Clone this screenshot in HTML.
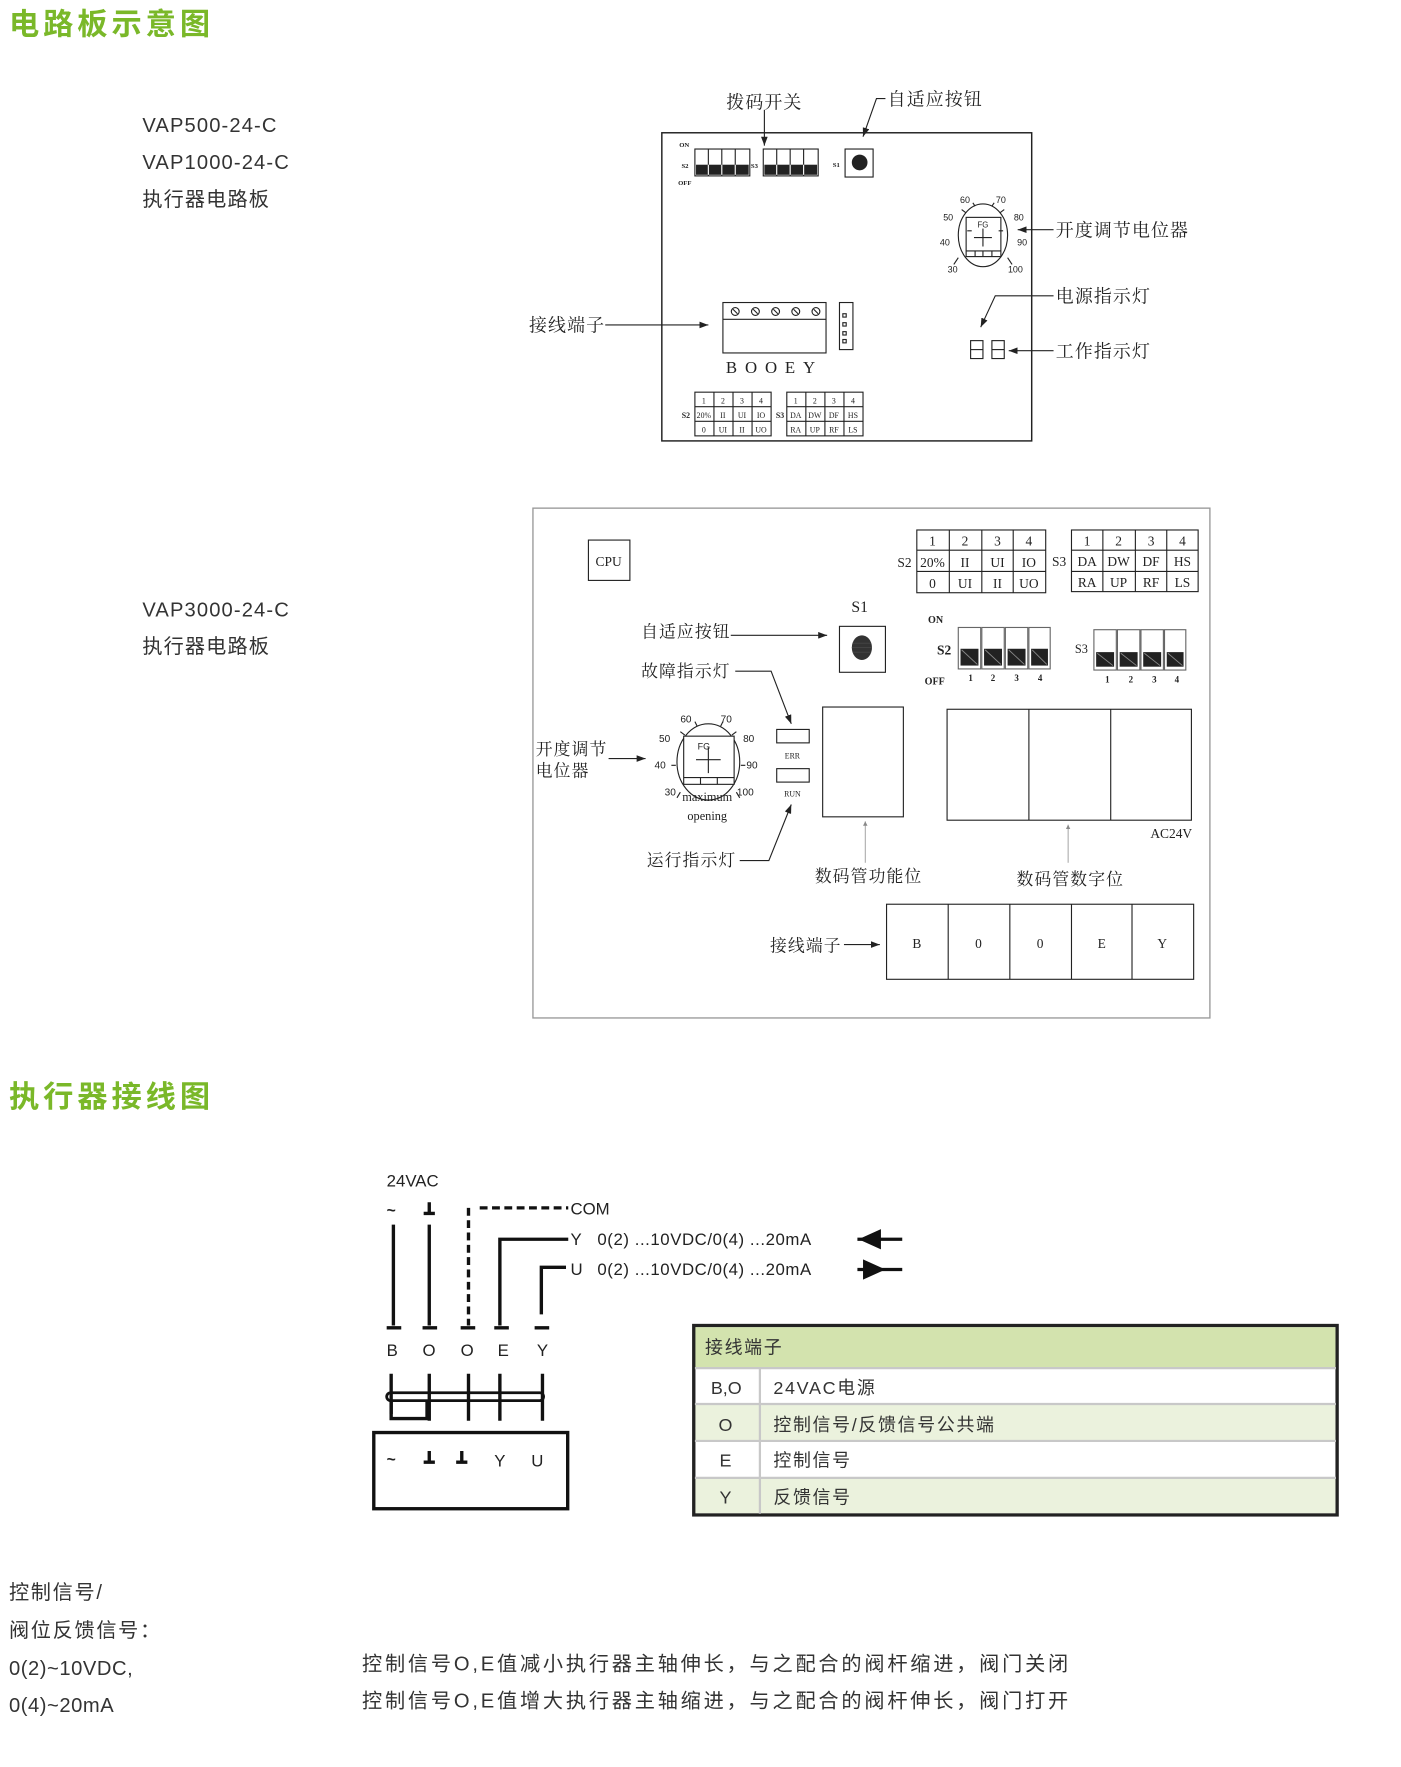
<!DOCTYPE html>
<html><head><meta charset="utf-8"><style>
html,body{margin:0;padding:0;background:#fff;}
svg{display:block;}
.s{font-family:"Liberation Sans","Noto Sans CJK SC",sans-serif;fill:#333;}
.r{font-family:"Liberation Serif","Noto Serif CJK SC",serif;fill:#222;}
.n{font-family:"Liberation Sans","Noto Sans CJK SC",sans-serif;fill:#222;}
</style></head><body>
<svg width="1401" height="1767" viewBox="0 0 1250 1577" preserveAspectRatio="none" xmlns="http://www.w3.org/2000/svg">
<defs>
<marker id="a" markerWidth="8" markerHeight="6" refX="8" refY="3" orient="auto" markerUnits="userSpaceOnUse"><path d="M0,0 L8,3 L0,6z" fill="#222"/></marker>
<marker id="b" markerWidth="4" markerHeight="4" refX="4" refY="2" orient="auto" markerUnits="userSpaceOnUse"><path d="M0,0 L4,2 L0,4z" fill="#888"/></marker>
</defs>
<rect width="1250" height="1577" fill="#fff"/>
<!-- titles -->
<text x="8" y="31" class="s" style="fill:#7ab829;font-size:27px;font-weight:bold;letter-spacing:3.5px">电路板示意图</text>
<g class="s" font-size="18" letter-spacing="1"><text x="127" y="118">VAP500-24-C</text>
<text x="127" y="151">VAP1000-24-C</text>
<text x="127" y="184">执行器电路板</text>
<text x="127" y="550">VAP3000-24-C</text>
<text x="127" y="583">执行器电路板</text></g>

<!-- Board 1 -->
<g stroke="#222" fill="none" stroke-width="1">
<rect x="590.5" y="118.5" width="330" height="275" stroke-width="1.3"/>
<line x1="682" y1="98" x2="682" y2="130" marker-end="url(#a)"/>
<polyline points="790,88 782,88 770,122" marker-end="url(#a)"/>
<rect x="620" y="133" width="49" height="24"/><line x1="632" y1="133" x2="632" y2="157"/><line x1="644" y1="133" x2="644" y2="157"/><line x1="656" y1="133" x2="656" y2="157"/>
<rect x="681" y="133" width="49" height="24"/><line x1="693" y1="133" x2="693" y2="157"/><line x1="705" y1="133" x2="705" y2="157"/><line x1="717" y1="133" x2="717" y2="157"/>
<rect x="754" y="133" width="25" height="25"/>
<ellipse cx="877" cy="210" rx="22" ry="28"/>
<rect x="862" y="194" width="31" height="35" fill="#fff"/>
<line x1="862" y1="224" x2="893" y2="224"/><line x1="870" y1="224" x2="870" y2="229"/><line x1="877" y1="224" x2="877" y2="229"/><line x1="885" y1="224" x2="885" y2="229"/>
<line x1="877" y1="204" x2="877" y2="220"/><line x1="869" y1="212" x2="885" y2="212"/>
<line x1="940" y1="205" x2="908" y2="205" marker-end="url(#a)"/>
<polyline points="940,264 888,264 875,292" marker-end="url(#a)"/>
<line x1="940" y1="313" x2="900" y2="313" marker-end="url(#a)"/>
<rect x="866" y="304" width="11" height="16"/><line x1="866" y1="312" x2="877" y2="312"/>
<rect x="885" y="304" width="11" height="16"/><line x1="885" y1="312" x2="896" y2="312"/>
<rect x="645" y="270" width="92" height="45"/><line x1="645" y1="285" x2="737" y2="285"/>
<rect x="749" y="270" width="12" height="42"/>
<line x1="540" y1="290" x2="632" y2="290" marker-end="url(#a)"/>
<rect x="620" y="350" width="68" height="39"/><line x1="620" y1="363" x2="688" y2="363"/><line x1="620" y1="376" x2="688" y2="376"/><line x1="637" y1="350" x2="637" y2="389"/><line x1="654" y1="350" x2="654" y2="389"/><line x1="671" y1="350" x2="671" y2="389"/>
<rect x="702" y="350" width="68" height="39"/><line x1="702" y1="363" x2="770" y2="363"/><line x1="702" y1="376" x2="770" y2="376"/><line x1="719" y1="350" x2="719" y2="389"/><line x1="736" y1="350" x2="736" y2="389"/><line x1="753" y1="350" x2="753" y2="389"/>
</g>
<g fill="#222">
<rect x="621" y="147" width="47" height="9"/><rect x="682" y="147" width="47" height="9"/>
<circle cx="767" cy="145" r="7"/>
</g>
<g stroke="#fff" stroke-width="1"><line x1="632" y1="147" x2="632" y2="156"/><line x1="644" y1="147" x2="644" y2="156"/><line x1="656" y1="147" x2="656" y2="156"/><line x1="693" y1="147" x2="693" y2="156"/><line x1="705" y1="147" x2="705" y2="156"/><line x1="717" y1="147" x2="717" y2="156"/></g>
<g stroke="#222" fill="none">
<circle cx="656" cy="278" r="3.5"/><circle cx="674" cy="278" r="3.5"/><circle cx="692" cy="278" r="3.5"/><circle cx="710" cy="278" r="3.5"/><circle cx="728" cy="278" r="3.5"/>
<path d="M654,276 l4,4 M672,276 l4,4 M690,276 l4,4 M708,276 l4,4 M726,276 l4,4"/>
<rect x="752" y="280" width="3" height="3"/><rect x="752" y="288" width="3" height="3"/><rect x="752" y="296" width="3" height="3"/><rect x="752" y="303" width="3" height="3"/>
<path d="M863,206 l4,0 M891,206 l4,0 M855,230 l-4,6 M899,230 l4,6 M862,190 l-4,-3 M892,190 l4,-3 M870,184 l-2,-3 M885,184 l2,-3"/>
</g>
<g class="r" font-size="6" font-weight="bold"><text x="606" y="131">ON</text><text x="608" y="150">S2</text><text x="605" y="165">OFF</text><text x="670" y="150">S3</text><text x="743" y="149">S1</text></g>
<g class="n" font-size="8" text-anchor="middle"><text x="861" y="181">60</text><text x="893" y="181">70</text><text x="846" y="197">50</text><text x="909" y="197">80</text><text x="843" y="219">40</text><text x="912" y="219">90</text><text x="850" y="243">30</text><text x="906" y="243">100</text><text x="877" y="203" font-size="7">FG</text></g>
<g class="r" font-size="16" letter-spacing="1"><text x="648" y="97">拨码开关</text><text x="792" y="94">自适应按钮</text><text x="942" y="211">开度调节电位器</text><text x="942" y="270">电源指示灯</text><text x="942" y="319">工作指示灯</text><text x="472" y="296">接线端子</text></g>
<text x="691" y="333" class="r" font-size="15" text-anchor="middle" letter-spacing="7">BOOEY</text>
<g class="r" font-size="7" text-anchor="middle">
<text x="628" y="360">1</text><text x="645" y="360">2</text><text x="662" y="360">3</text><text x="679" y="360">4</text>
<text x="628" y="373">20%</text><text x="645" y="373">II</text><text x="662" y="373">UI</text><text x="679" y="373">IO</text>
<text x="628" y="386">0</text><text x="645" y="386">UI</text><text x="662" y="386">II</text><text x="679" y="386">UO</text>
<text x="710" y="360">1</text><text x="727" y="360">2</text><text x="744" y="360">3</text><text x="761" y="360">4</text>
<text x="710" y="373">DA</text><text x="727" y="373">DW</text><text x="744" y="373">DF</text><text x="761" y="373">HS</text>
<text x="710" y="386">RA</text><text x="727" y="386">UP</text><text x="744" y="386">RF</text><text x="761" y="386">LS</text>
<text x="612" y="373" font-weight="bold">S2</text><text x="696" y="373" font-weight="bold">S3</text>
</g>

<!-- Board 2 -->
<rect x="475.5" y="453.5" width="604" height="455" fill="none" stroke="#999" stroke-width="1.2"/>
<g stroke="#222" fill="none" stroke-width="1">
<rect x="525" y="482" width="37" height="36"/>
<rect x="818" y="473" width="115" height="56"/><line x1="818" y1="491" x2="933" y2="491"/><line x1="818" y1="510" x2="933" y2="510"/><line x1="847" y1="473" x2="847" y2="529"/><line x1="876" y1="473" x2="876" y2="529"/><line x1="904" y1="473" x2="904" y2="529"/>
<rect x="956" y="473" width="113" height="55"/><line x1="956" y1="491" x2="1069" y2="491"/><line x1="956" y1="510" x2="1069" y2="510"/><line x1="984" y1="473" x2="984" y2="528"/><line x1="1013" y1="473" x2="1013" y2="528"/><line x1="1041" y1="473" x2="1041" y2="528"/>
<rect x="749" y="559" width="41" height="41"/>
<line x1="652" y1="567" x2="738" y2="567" marker-end="url(#a)"/>
<polyline points="656,599 688,599 706,646" marker-end="url(#a)"/>
<polyline points="660,768 686,768 706,718" marker-end="url(#a)"/>
<rect x="693" y="651" width="29" height="12"/><rect x="693" y="686" width="29" height="12"/>
<ellipse cx="632" cy="680" rx="28" ry="34"/>
<rect x="610" y="657" width="45" height="43" fill="#fff"/>
<line x1="610" y1="694" x2="655" y2="694"/><line x1="625" y1="694" x2="625" y2="700"/><line x1="640" y1="694" x2="640" y2="700"/>
<line x1="632" y1="667" x2="632" y2="690"/><line x1="621" y1="678" x2="643" y2="678"/>
<path d="M603,683 l-4,0 M661,683 l4,0 M607,707 l-3,5 M657,707 l3,5 M611,656 l-4,-3 M653,656 l4,-3 M622,648 l-2,-4 M643,648 l2,-4"/>
<line x1="543" y1="677" x2="576" y2="677" marker-end="url(#a)"/>
<rect x="734" y="631" width="72" height="98"/>
<rect x="845" y="633" width="218" height="99"/><line x1="918" y1="633" x2="918" y2="732"/><line x1="991" y1="633" x2="991" y2="732"/>
<rect x="791" y="807" width="274" height="67"/><line x1="846" y1="807" x2="846" y2="874"/><line x1="901" y1="807" x2="901" y2="874"/><line x1="956" y1="807" x2="956" y2="874"/><line x1="1010" y1="807" x2="1010" y2="874"/>
<line x1="753" y1="843" x2="785" y2="843" marker-end="url(#a)"/>
</g>
<g stroke="#999" stroke-width="0.8"><line x1="772" y1="770" x2="772" y2="733" marker-end="url(#b)"/><line x1="953" y1="770" x2="953" y2="736" marker-end="url(#b)"/></g>
<ellipse cx="769" cy="578" rx="9" ry="11" fill="#333"/>
<g stroke="#555" stroke-width="0.5"><line x1="761" y1="574" x2="777" y2="574"/><line x1="760" y1="578" x2="778" y2="578"/><line x1="761" y1="582" x2="777" y2="582"/></g>
<g stroke="#666" fill="#fff" stroke-width="1">
<rect x="855" y="560" width="20" height="37"/><rect x="876" y="560" width="20" height="37"/><rect x="897" y="560" width="20" height="37"/><rect x="918" y="560" width="19" height="37"/>
<rect x="976" y="562" width="20" height="36"/><rect x="997" y="562" width="20" height="36"/><rect x="1018" y="562" width="20" height="36"/><rect x="1039" y="562" width="19" height="36"/>
</g>
<g fill="#222"><rect x="857" y="579" width="16" height="15"/><rect x="878" y="579" width="16" height="15"/><rect x="899" y="579" width="16" height="15"/><rect x="920" y="579" width="15" height="15"/>
<rect x="978" y="582" width="16" height="13"/><rect x="999" y="582" width="16" height="13"/><rect x="1020" y="582" width="16" height="13"/><rect x="1041" y="582" width="15" height="13"/></g>
<g stroke="#888" stroke-width="0.8"><path d="M858,580 l14,13 M879,580 l14,13 M900,580 l14,13 M921,580 l13,13 M979,583 l14,11 M1000,583 l14,11 M1021,583 l14,11 M1042,583 l13,11"/></g>
<g class="r" font-weight="bold"><text x="828" y="556" font-size="9">ON</text><text x="836" y="584" font-size="12">S2</text><text x="825" y="611" font-size="9">OFF</text></g>
<g class="r" font-size="8" font-weight="bold" text-anchor="middle"><text x="866" y="608">1</text><text x="886" y="608">2</text><text x="907" y="608">3</text><text x="928" y="608">4</text><text x="988" y="609">1</text><text x="1009" y="609">2</text><text x="1030" y="609">3</text><text x="1050" y="609">4</text></g>
<text x="959" y="583" class="r" font-size="11">S3</text>
<g class="r" font-size="12" text-anchor="middle">
<text x="543" y="505">CPU</text>
<text x="832" y="487">1</text><text x="861" y="487">2</text><text x="890" y="487">3</text><text x="918" y="487">4</text>
<text x="832" y="506">20%</text><text x="861" y="506">II</text><text x="890" y="506">UI</text><text x="918" y="506">IO</text>
<text x="832" y="525">0</text><text x="861" y="525">UI</text><text x="890" y="525">II</text><text x="918" y="525">UO</text>
<text x="970" y="487">1</text><text x="998" y="487">2</text><text x="1027" y="487">3</text><text x="1055" y="487">4</text>
<text x="970" y="505">DA</text><text x="998" y="505">DW</text><text x="1027" y="505">DF</text><text x="1055" y="505">HS</text>
<text x="970" y="524">RA</text><text x="998" y="524">UP</text><text x="1027" y="524">RF</text><text x="1055" y="524">LS</text>
<text x="807" y="506">S2</text><text x="945" y="505">S3</text>
<text x="767" y="546" font-size="14">S1</text>
<text x="1045" y="748">AC24V</text>
<text x="818" y="846">B</text><text x="873" y="846">0</text><text x="928" y="846">0</text><text x="983" y="846">E</text><text x="1037" y="846">Y</text>
<text x="631" y="715" font-size="11">maximum</text><text x="631" y="732" font-size="11">opening</text>
<text x="707" y="677" font-size="7">ERR</text><text x="707" y="711" font-size="7">RUN</text>
</g>
<g class="n" font-size="9" text-anchor="middle"><text x="612" y="645">60</text><text x="648" y="645">70</text><text x="593" y="662">50</text><text x="668" y="662">80</text><text x="589" y="686">40</text><text x="671" y="686">90</text><text x="598" y="710">30</text><text x="665" y="710">100</text><text x="628" y="669" font-size="8">FG</text></g>
<g class="r" font-size="15" letter-spacing="1"><text x="572" y="569">自适应按钮</text><text x="572" y="604">故障指示灯</text><text x="577" y="773">运行指示灯</text><text x="478" y="674">开度调节</text><text x="478" y="693">电位器</text><text x="727" y="787">数码管功能位</text><text x="907" y="790">数码管数字位</text><text x="687" y="849">接线端子</text></g>

<!-- Section 2 -->
<text x="8" y="988" class="s" style="fill:#7ab829;font-size:27px;font-weight:bold;letter-spacing:3.5px">执行器接线图</text>
<g class="n" font-size="15"><text x="345" y="1059">24VAC</text><text x="509" y="1084">COM</text><text x="509" y="1111">Y</text><text x="509" y="1138">U</text>
<text x="533" y="1111" letter-spacing="0.5">0(2) ...10VDC/0(4) ...20mA</text><text x="533" y="1138" letter-spacing="0.5">0(2) ...10VDC/0(4) ...20mA</text>
<text x="345" y="1210">B</text><text x="377" y="1210">O</text><text x="411" y="1210">O</text><text x="444" y="1210">E</text><text x="479" y="1210">Y</text>
<text x="441" y="1309">Y</text><text x="474" y="1309">U</text></g>
<g class="n" font-size="14" font-weight="bold"><text x="345" y="1085">~</text><text x="345" y="1307">~</text></g>
<g stroke="#111" stroke-width="3" fill="none">
<path d="M383,1073 v9 M378,1083 h10 M383,1295 v9 M378,1305 h10 M412,1295 v9 M407,1305 h10"/>
<line x1="351" y1="1093" x2="351" y2="1183"/><line x1="383" y1="1093" x2="383" y2="1183"/>
<line x1="418" y1="1078" x2="418" y2="1183" stroke-dasharray="7,4"/>
<line x1="428" y1="1078" x2="507" y2="1078" stroke-dasharray="7,4"/>
<polyline points="446,1183 446,1106 507,1106"/>
<polyline points="483,1173 483,1131 505,1131"/>
<line x1="765" y1="1106" x2="805" y2="1106"/><line x1="765" y1="1133" x2="805" y2="1133"/>
<path d="M345,1185 h13 M377,1185 h13 M411,1185 h13 M441,1185 h13 M477,1185 h13"/>
<path d="M349,1226 v36 M383,1226 v42 M418,1226 v42 M446,1226 v42 M484,1226 v42"/>
<polyline points="349,1250 349,1266 381,1266 381,1250"/>
<rect x="345" y="1243" width="140" height="7" rx="3.5" stroke-width="2.5"/>
<rect x="333.5" y="1278.5" width="173" height="68"/>
</g>
<path d="M766,1106 L786,1097 L786,1115z" fill="#111"/>
<path d="M790,1133 L770,1124 L770,1142z" fill="#111"/>

<!-- table -->
<rect x="619" y="1183" width="574" height="169" fill="#fff" stroke="#222" stroke-width="3"/>
<rect x="620.5" y="1184.5" width="571" height="36" fill="#d3e3ae"/>
<rect x="620.5" y="1253" width="571" height="33" fill="#ebf2dd"/>
<rect x="620.5" y="1319" width="571" height="31.5" fill="#ebf2dd"/>
<g stroke="#c8c8c8" stroke-width="2"><line x1="620" y1="1221" x2="1192" y2="1221"/><line x1="620" y1="1253" x2="1192" y2="1253"/><line x1="620" y1="1286" x2="1192" y2="1286"/><line x1="620" y1="1319" x2="1192" y2="1319"/><line x1="678" y1="1221" x2="678" y2="1351"/></g>
<g class="s" font-size="16" fill="#222" letter-spacing="1.5"><text x="629" y="1208">接线端子</text>
<text x="648" y="1244" text-anchor="middle" letter-spacing="0">B,O</text><text x="648" y="1277" text-anchor="middle">O</text><text x="648" y="1309" text-anchor="middle">E</text><text x="648" y="1342" text-anchor="middle">Y</text>
<text x="690" y="1244">24VAC电源</text><text x="690" y="1277">控制信号/反馈信号公共端</text><text x="690" y="1309">控制信号</text><text x="690" y="1342">反馈信号</text></g>

<!-- bottom text -->
<g class="s" font-size="18" fill="#444" letter-spacing="1.5"><text x="8" y="1427">控制信号/</text><text x="8" y="1461">阀位反馈信号：</text><text x="8" y="1495" letter-spacing="0.5">0(2)~10VDC,</text><text x="8" y="1528" letter-spacing="0.5">0(4)~20mA</text>
<text x="323" y="1491" letter-spacing="2.5">控制信号O,E值减小执行器主轴伸长，与之配合的阀杆缩进，阀门关闭</text>
<text x="323" y="1524" letter-spacing="2.5">控制信号O,E值增大执行器主轴缩进，与之配合的阀杆伸长，阀门打开</text></g>
</svg>
</body></html>
